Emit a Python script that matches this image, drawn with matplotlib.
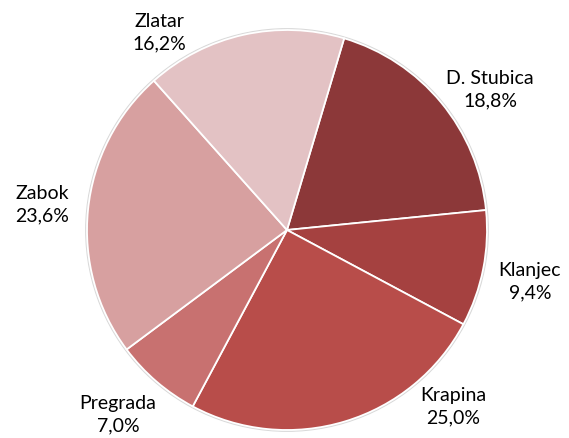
import matplotlib

matplotlib.use("Agg")
import matplotlib.pyplot as plt

# share of each town, clockwise from the top
towns = ["D. Stubica", "Klanjec", "Krapina", "Pregrada", "Zabok", "Zlatar"]
shares = [18.8, 9.4, 25.0, 7.0, 23.6, 16.2]
colors = ["#8C3839", "#A54140", "#B84D4A", "#C87170", "#D7A0A0", "#E3C2C4"]

# label centres in pie-radius units (Excel-like placement)
label_pos = [
    (1.015, 0.70),
    (1.215, -0.26),
    (0.83, -0.885),
    (-0.845, -0.925),
    (-1.225, 0.125),
    (-0.64, 0.985),
]

plt.rcParams["font.family"] = ["Lato", "DejaVu Sans"]

fig = plt.figure(figsize=(5.69, 4.38), dpi=100)
ax = fig.add_axes([0, 0, 1, 1])

# light grey rim behind the wedges
rim = plt.Circle((0, 0), 1.006, color="#d9d9d9", zorder=0)
ax.add_patch(rim)

ax.pie(
    shares,
    colors=colors,
    startangle=73.4,
    counterclock=False,
    radius=1.0,
    wedgeprops={"edgecolor": "white", "linewidth": 1.3},
)

for name, val, (x, y) in zip(towns, shares, label_pos):
    pct = f"{val:.1f}".replace(".", ",") + "%"
    ax.text(x, y, f"{name}\n{pct}", ha="center", va="center",
            fontsize=14, linespacing=1.4, color="black")

ax.set_xlim(-287 / 200, (569 - 287) / 200)
ax.set_ylim((230 - 438) / 200, 230 / 200)
ax.set_aspect("auto")
ax.axis("off")

fig.savefig("out.png", dpi=100)
